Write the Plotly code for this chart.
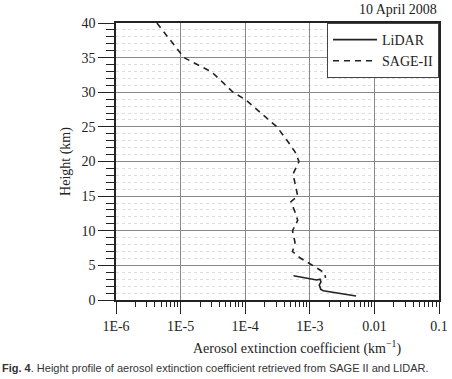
import plotly.graph_objects as go

# SAGE-II profile (extinction km^-1 vs height km)
sage_ext = [4.3e-6, 1.13e-5, 3.06e-5, 6.5e-5, 1.02e-4, 3.1e-4, 4.4e-4, 5.9e-4, 6.8e-4,
            5.5e-4, 6.5e-4, 5.1e-4, 5.9e-4, 6.5e-4, 5.4e-4, 5.9e-4, 5.4e-4, 7.0e-4,
            1.2e-3, 1.7e-3, 1.75e-3]
sage_h = [40, 35, 32.9, 30, 28.9, 25, 23.1, 21.4, 20,
          18.2, 15, 14.2, 12.7, 11.5, 10, 8.3, 7, 6.1,
          4.8, 3.9, 3.2]

# LiDAR profile
lidar_ext = [5.6e-4, 1.0e-3, 1.28e-3, 1.44e-3, 1.49e-3, 1.40e-3, 1.48e-3, 1.62e-3, 5.2e-3]
lidar_h = [3.5, 3.13, 2.89, 2.99, 2.6, 2.16, 1.54, 1.34, 0.58]

x_tickvals = [1e-6, 1e-5, 1e-4, 1e-3, 1e-2, 1e-1]
x_ticktext = ["1E-6", "1E-5", "1E-4", "1E-3", "0.01", "0.1"]
y_tickvals = [0, 5, 10, 15, 20, 25, 30, 35, 40]

serif = "Liberation Serif"

fig = go.Figure()
fig.add_trace(go.Scatter(x=lidar_ext, y=lidar_h, mode="lines", name="LiDAR",
                         line=dict(color="#222222", width=1.6)))
fig.add_trace(go.Scatter(x=sage_ext, y=sage_h, mode="lines", name="SAGE-II",
                         line=dict(color="#222222", width=1.6, dash="6px,5px")))

fig.update_layout(
    width=452, height=379,
    margin=dict(l=116, r=13, t=23, b=79),
    paper_bgcolor="white", plot_bgcolor="white",
    font=dict(family=serif, size=14, color="#222222"),
    showlegend=True,
    legend=dict(x=1, y=1, xanchor="right", yanchor="top",
                bgcolor="white", bordercolor="#444444", borderwidth=1,
                font=dict(family=serif, size=14), tracegroupgap=0,
                itemwidth=44),
    xaxis=dict(type="log", range=[-6, -1], tickvals=x_tickvals, ticktext=x_ticktext,
               automargin=False,
               ticks="outside", ticklen=12, tickwidth=1.2, tickcolor="#222222",
               showline=True, linecolor="#222222", linewidth=1.5, mirror=True,
               showgrid=True, gridcolor="#888888", gridwidth=1.2,
               zeroline=False,
               minor=dict(ticks="outside", ticklen=5, tickwidth=1.2, tickcolor="#222222",
                          dtick="D1", showgrid=False),
               tickfont=dict(family=serif, size=14)),
    yaxis=dict(range=[0, 40], tickvals=y_tickvals, automargin=False,
               ticks="outside", ticklen=16, tickwidth=1.2, tickcolor="#222222",
               showline=True, linecolor="#222222", linewidth=1.5, mirror=True,
               showgrid=True, gridcolor="#888888", gridwidth=1.2,
               zeroline=False,
               minor=dict(ticks="outside", ticklen=8, tickwidth=1.2, tickcolor="#222222",
                          dtick=1, showgrid=True, gridcolor="#dddddd", griddash="dot",
                          gridwidth=1),
               title=dict(text="Height (km)", font=dict(family=serif, size=14), standoff=8),
               tickfont=dict(family=serif, size=14)),
)

fig.add_annotation(text="10 April 2008", xref="paper", yref="paper", x=1.0, y=1.0,
                   xanchor="right", yanchor="bottom", yshift=4, showarrow=False,
                   font=dict(family=serif, size=14))
fig.add_annotation(text="Aerosol extinction coefficient (km<sup>−1</sup>)", xref="paper", yref="paper",
                   x=0.56, y=0, xanchor="center", yanchor="top", yshift=-36, showarrow=False,
                   font=dict(family=serif, size=14))
fig.add_annotation(text="<b>Fig. 4</b>. Height profile of aerosol extinction coefficient retrieved from SAGE II and LIDAR.",
                   xref="paper", yref="paper", x=-116/323, y=0, xanchor="left", yanchor="top",
                   yshift=-60, showarrow=False, align="left",
                   font=dict(family="Liberation Sans", size=11, color="#333333"))

fig.write_html("out.html", config={"displayModeBar": False},
               post_script="document.body.style.margin='0';")
